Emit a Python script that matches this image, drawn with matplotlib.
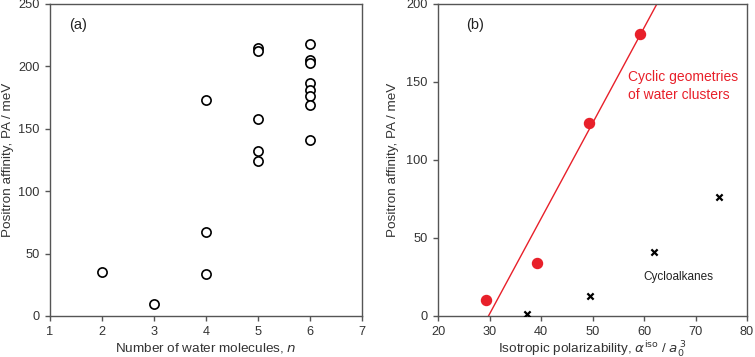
import matplotlib

matplotlib.use("Agg")
import matplotlib.pyplot as plt

plt.rcParams["font.family"] = ["Liberation Sans", "DejaVu Sans"]
plt.rcParams["font.size"] = 9.7

# panel (a): positron affinity vs number of water molecules
n_water = [2, 3, 4, 4, 4, 5, 5, 5, 5, 5, 6, 6, 6, 6, 6, 6, 6, 6]
pa_water = [35, 10, 173, 67, 34, 215, 212, 158, 132, 124,
            218, 205, 203, 187, 181, 176, 169, 141]

# panel (b): cyclic water clusters and cycloalkanes vs polarizability
alpha_cyclic = [29.3, 39.2, 49.3, 59.2]
pa_cyclic = [10, 34, 124, 181]
fit_alpha = [29.8, 62.5]
fit_pa = [0, 200]
alpha_alkanes = [37.2, 49.6, 62.0, 74.5]
pa_alkanes = [1, 13, 41, 76]

fig = plt.figure(figsize=(7.55, 3.57), dpi=100)
ax1 = fig.add_axes([50 / 755, 41 / 357, 312 / 755, 312 / 357])
ax2 = fig.add_axes([438 / 755, 41 / 357, 309 / 755, 312 / 357])

spine_col = "#555555"
text_col = "#333333"
for ax in (ax1, ax2):
    for s in ax.spines.values():
        s.set_color(spine_col)
        s.set_linewidth(1.0)
    ax.tick_params(direction="out", length=3.5, width=1.0, color=spine_col,
                   labelcolor=text_col, labelsize=9.2, pad=4,
                   top=False, right=False)

ax1.scatter(n_water, pa_water, s=44, facecolors="white", edgecolors="black",
            linewidths=1.2, zorder=3, clip_on=False)
ax1.set_xlim(1, 7)
ax1.set_ylim(0, 250)
ax1.set_xticks(range(1, 8))
ax1.set_yticks(range(0, 251, 50))
ax1.set_xlabel("Number of water molecules, $\\mathit{n}$", color=text_col, labelpad=2)
ax1.set_ylabel("Positron affinity, PA / meV", color=text_col, labelpad=3)
ax1.text(0.06, 0.955, "(a)", transform=ax1.transAxes, ha="left", va="top",
         fontsize=10.5, color="#222222")

ax2.plot(fit_alpha, fit_pa, color="#e8202a", lw=1.0, zorder=2)
ax2.scatter(alpha_cyclic, pa_cyclic, s=52, color="#e8202a", zorder=3)
ax2.scatter(alpha_alkanes, pa_alkanes, s=20, marker="x", color="black",
            linewidths=1.6, zorder=3)
ax2.set_xlim(20, 80)
ax2.set_ylim(0, 200)
ax2.set_xticks(range(20, 81, 10))
ax2.set_yticks(range(0, 201, 50))
ax2.set_xlabel("Isotropic polarizability, $\\mathit{\\alpha}^{\\mathrm{iso}}$ / $\\mathit{a}_0^{\\,3}$",
               color=text_col, labelpad=0.5)
ax2.set_ylabel("Positron affinity, PA / meV", color=text_col, labelpad=5)
ax2.text(0.09, 0.955, "(b)", transform=ax2.transAxes, ha="left", va="top",
         fontsize=10.5, color="#222222")
ax2.text(56.8, 147.5, "Cyclic geometries\nof water clusters", color="#e8202a",
         fontsize=10, ha="left", va="center", linespacing=1.3)
ax2.text(59.8, 25, "Cycloalkanes", color="#222222", fontsize=8.5,
         ha="left", va="center")

fig.savefig("out.png", dpi=100)
